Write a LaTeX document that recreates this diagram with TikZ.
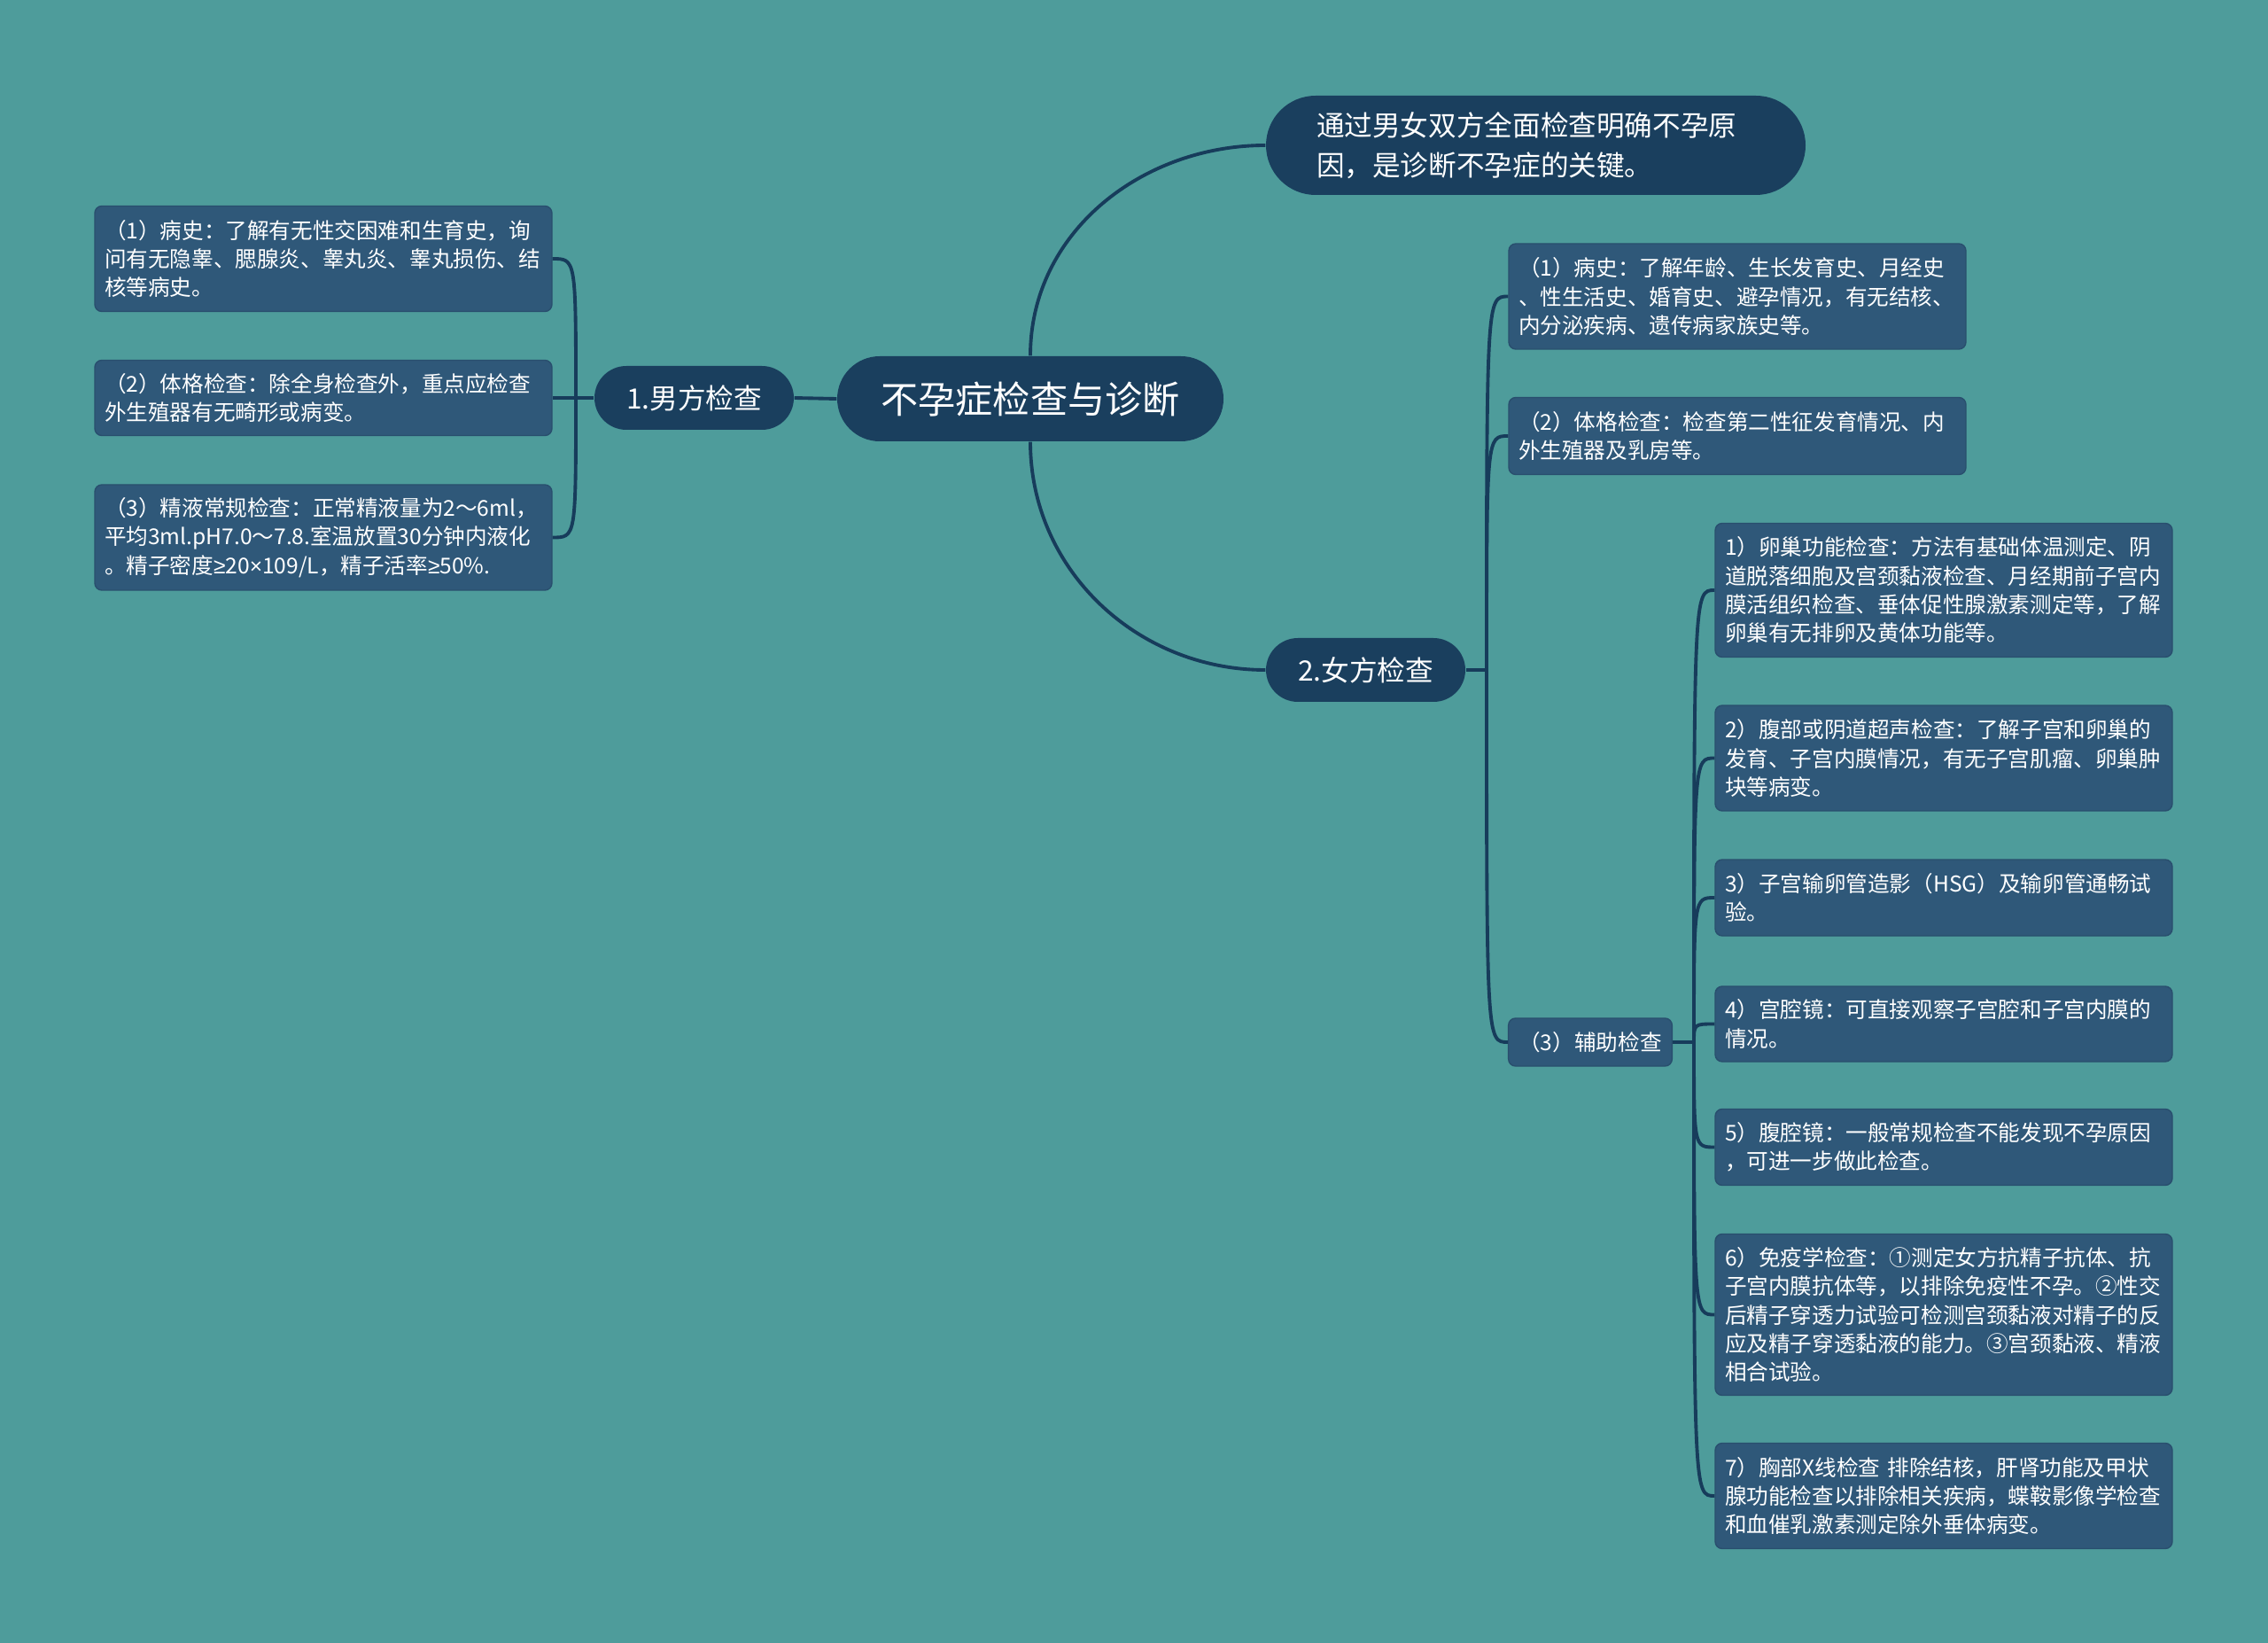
\documentclass[tikz,border=0pt]{standalone}
\usepackage{fontspec}
\setmainfont{Noto Sans CJK SC}
\newfontfamily\symfont{Liberation Sans}

\definecolor{bgteal}{HTML}{4E9C9B}
\definecolor{navy}{HTML}{1A3F5E}
\definecolor{leafblue}{HTML}{2F5879}
\definecolor{leafedge}{HTML}{294F6E}
\definecolor{linkblue}{HTML}{173C5B}

\tikzset{
  link/.style={draw=linkblue, line width=1.1pt},
  pill/.style={fill=navy, text=white, rounded corners=#1, inner sep=0pt},
  leaf/.style={fill=leafblue, draw=leafedge, line width=0.4pt, text=white, rounded corners=0.08cm,
    inner ysep=0pt, font=\fontsize{7}{9.2}\selectfont},
  leafbox/.style={leaf, align=left, text width=4.94cm, inner xsep=0.11cm},
}

\begin{document}
\begin{tikzpicture}
			\fill[bgteal] (0,0) rectangle (25.6,-18.54);
			%\draw[help lines] (0,-18) grid (25,0);

			% centre and first level
			\node[pill=0.48cm, minimum width=4.36cm, minimum height=0.96cm, font=\fontsize{12}{14}\selectfont] (root) at (11.63,-4.50) {不孕症检查与诊断};
			\node[pill=0.36cm, minimum width=2.25cm, minimum height=0.72cm, font=\fontsize{9}{11}\selectfont] (male) at (7.835,-4.49) {1.男方检查};
			\node[pill=0.36cm, minimum width=2.25cm, minimum height=0.72cm, font=\fontsize{9}{11}\selectfont] (female) at (15.415,-7.56) {2.女方检查};
			\node[pill=0.56cm, minimum width=6.09cm, minimum height=1.12cm, text width=4.95cm, align=left, font=\fontsize{9}{12.7}\selectfont] (key) at (17.335,-1.64) {通过男女双方全面检查明确不孕原\\因，是诊断不孕症的关键。};

			% male side
			\node[leafbox, minimum height=1.19cm] (m1) at (3.65,-2.92) {（1）病史：了解有无性交困难和生育史，询\\问有无隐睾、腮腺炎、睾丸炎、睾丸损伤、结\\核等病史。};
			\node[leafbox, minimum height=0.85cm] (m2) at (3.65,-4.49) {（2）体格检查：除全身检查外，重点应检查\\外生殖器有无畸形或病变。};
			\node[leafbox, minimum height=1.19cm] (m3) at (3.65,-6.065) {（3）精液常规检查：正常精液量为2～6ml，\\平均3ml.pH7.0～7.8.室温放置30分钟内液化\\。精子密度{\symfont ≥}20{\symfont ×}109/L，精子活率{\symfont ≥}50\%.};

			% female side
			\node[leafbox, minimum height=1.19cm] (f1) at (19.61,-3.345) {（1）病史：了解年龄、生长发育史、月经史\\、性生活史、婚育史、避孕情况，有无结核、\\内分泌疾病、遗传病家族史等。};
			\node[leafbox, minimum height=0.87cm] (f2) at (19.61,-4.92) {（2）体格检查：检查第二性征发育情况、内\\外生殖器及乳房等。};
			\node[leaf, minimum width=1.84cm, minimum height=0.54cm] (f3) at (17.95,-11.76) {（3）辅助检查};

			% auxiliary examinations
			\node[leafbox, minimum height=1.51cm] (a1) at (21.94,-6.66) {1）卵巢功能检查：方法有基础体温测定、阴\\道脱落细胞及宫颈黏液检查、月经期前子宫内\\膜活组织检查、垂体促性腺激素测定等，了解\\卵巢有无排卵及黄体功能等。};
			\node[leafbox, minimum height=1.19cm] (a2) at (21.94,-8.555) {2）腹部或阴道超声检查：了解子宫和卵巢的\\发育、子宫内膜情况，有无子宫肌瘤、卵巢肿\\块等病变。};
			\node[leafbox, minimum height=0.86cm] (a3) at (21.94,-10.13) {3）子宫输卵管造影（HSG）及输卵管通畅试\\验。};
			\node[leafbox, minimum height=0.85cm] (a4) at (21.94,-11.555) {4）宫腔镜：可直接观察子宫腔和子宫内膜的\\情况。};
			\node[leafbox, minimum height=0.86cm] (a5) at (21.94,-12.945) {5）腹腔镜：一般常规检查不能发现不孕原因\\，可进一步做此检查。};
			\node[leafbox, minimum height=1.82cm] (a6) at (21.94,-14.835) {6）免疫学检查：①测定女方抗精子抗体、抗\\子宫内膜抗体等，以排除免疫性不孕。②性交\\后精子穿透力试验可检测宫颈黏液对精子的反\\应及精子穿透黏液的能力。③宫颈黏液、精液\\相合试验。};
			\node[leafbox, minimum height=1.19cm] (a7) at (21.94,-16.88) {7）胸部X线检查 排除结核，肝肾功能及甲状\\腺功能检查以排除相关疾病，蝶鞍影像学检查\\和血催乳激素测定除外垂体病变。};

			% connectors
			\draw[link] (root.west) -- (male.east);
			\draw[link] (root.north) to[out=90,in=180] (key.west);
			\draw[link] (root.south) to[out=270,in=180] (female.west);

			\coordinate (mj) at (6.50,-4.49);
			\draw[link] (male.west) -- (mj);
			\foreach \c in {m1,m2,m3}
				\draw[link] (mj) .. controls (mj |- \c.east) .. (\c.east);

			\coordinate (fj) at (16.78,-7.56);
			\draw[link] (female.east) -- (fj);
			\foreach \c in {f1,f2,f3}
				\draw[link] (fj) .. controls (fj |- \c.west) .. (\c.west);

			\coordinate (aj) at (19.12,-11.76);
			\draw[link] (f3.east) -- (aj);
			\foreach \c in {a1,a2,a3,a4,a5,a6,a7}
				\draw[link] (aj) .. controls (aj |- \c.west) .. (\c.west);
\end{tikzpicture}
\end{document}
